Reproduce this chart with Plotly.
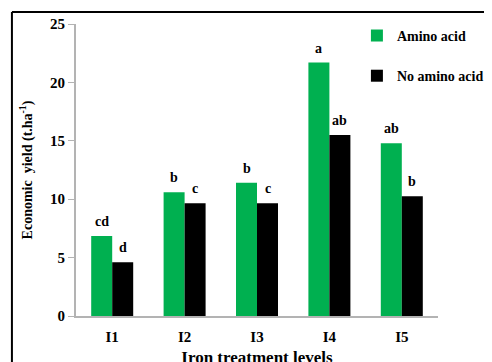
import plotly.graph_objects as go

categories = ["I1", "I2", "I3", "I4", "I5"]
amino = [6.85, 10.6, 11.4, 21.7, 14.8]
no_amino = [4.6, 9.65, 9.65, 15.5, 10.25]
amino_letters = ["cd", "b", "b", "a", "ab"]
no_amino_letters = ["d", "c", "c", "ab", "b"]
y_ticks = [0, 5, 10, 15, 20, 25]

FONT = "Liberation Serif"
GREEN = "#00b050"

fig = go.Figure()
fig.add_trace(go.Bar(x=categories, y=amino, name="Amino acid",
                     marker=dict(color=GREEN, line=dict(width=0)),
                     legendgroup="a"))
fig.add_trace(go.Bar(x=categories, y=no_amino, name="No amino acid",
                     marker=dict(color="black", line=dict(width=0)),
                     legendgroup="b"))

for cat, v, t in zip(categories, amino, amino_letters):
    fig.add_annotation(x=cat, y=v, text=t, showarrow=False, xshift=-10.5,
                       yshift=5, yanchor="bottom",
                       font=dict(family=FONT, size=14, color="black", weight="bold"))
for cat, v, t in zip(categories, no_amino, no_amino_letters):
    fig.add_annotation(x=cat, y=v, text=t, showarrow=False, xshift=10.5,
                       yshift=5, yanchor="bottom",
                       font=dict(family=FONT, size=14, color="black", weight="bold"))

# outer frame (left and top edges; others fall outside the picture)
fig.add_shape(type="line", xref="paper", yref="paper",
              x0=-0.177, x1=-0.177, y0=-0.18, y1=1.041,
              line=dict(color="black", width=2))
fig.add_shape(type="line", xref="paper", yref="paper",
              x0=-0.177, x1=1.16, y0=1.041, y1=1.041,
              line=dict(color="black", width=2))

fig.update_layout(
    width=492, height=362,
    margin=dict(l=68, r=62, t=16, b=54, autoexpand=False),
    paper_bgcolor="white", plot_bgcolor="white",
    barmode="group", bargap=0.42, bargroupgap=0,
    font=dict(family=FONT, color="black"),
    legend=dict(x=0.776, y=1.014, xanchor="left", yanchor="top",
                bgcolor="rgba(0,0,0,0)", tracegroupgap=19,
                itemwidth=30,
                font=dict(family=FONT, size=14, color="black", weight="bold")),
    xaxis=dict(showline=True, linecolor="#b3b3b3", linewidth=2,
               ticks="", ticklabelstandoff=6, automargin=False,
               tickfont=dict(family=FONT, size=15, color="black", weight="bold"),
               title=dict(text="Iron treatment levels", standoff=7,
                          font=dict(family=FONT, size=17, color="black", weight="bold"))),
    yaxis=dict(range=[0, 25], tickvals=y_ticks, showgrid=False, zeroline=False,
               showline=True, linecolor="#b3b3b3", linewidth=2, automargin=False,
               ticks="outside", ticklen=6, tickcolor="#b3b3b3", tickwidth=1,
               tickfont=dict(family=FONT, size=15, color="black", weight="bold"),
               title=dict(text="Economic  yield (t.ha<sup>-1</sup>)", standoff=14,
                          font=dict(family=FONT, size=14, color="black", weight="bold"))),
)

fig.write_html("out.html")
